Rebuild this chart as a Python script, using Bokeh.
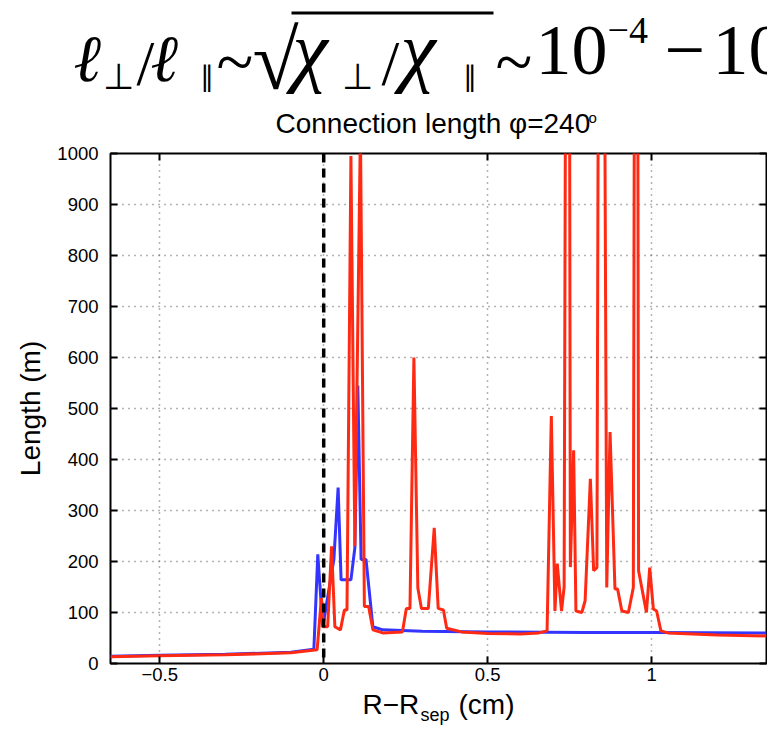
from bokeh.plotting import figure
from bokeh.models import Range1d, LinearAxis, FixedTicker, Span, ColumnDataSource
from bokeh.layouts import column
from bokeh.embed import file_html
from bokeh.resources import INLINE
from bokeh.core.properties import value

# ---------------- data ----------------
x_blue = [-0.65, -0.5, -0.3, -0.1, -0.03, -0.018, -0.008, -0.003, 0.031, 0.044, 0.053,
          0.083, 0.095, 0.104, 0.114, 0.129, 0.15, 0.18, 0.3, 0.5, 0.8, 1.0, 1.35]
y_blue = [14, 16, 18, 22, 28, 214, 120, 71, 204, 345, 164,
          164, 227, 545, 204, 204, 72, 66, 63, 62, 61, 61, 60]

x_red = [-0.65, -0.5, -0.3, -0.1, -0.02, -0.007, -0.001, 0.012, 0.024, 0.034, 0.051, 0.063,
         0.071, 0.083, 0.095, 0.112, 0.124, 0.137, 0.15, 0.18, 0.24, 0.252, 0.263, 0.275,
         0.287, 0.298, 0.319, 0.337, 0.349, 0.365, 0.375, 0.42, 0.5, 0.6, 0.656, 0.681,
         0.694, 0.705, 0.712, 0.725, 0.733, 0.745, 0.752, 0.762, 0.769, 0.787, 0.797,
         0.813, 0.823, 0.833, 0.845, 0.863, 0.873, 0.888, 0.896, 0.909, 0.929, 0.944,
         0.953, 0.96, 0.984, 0.994, 1.005, 1.015, 1.028, 1.05, 1.2, 1.35]
y_red = [13, 15, 17, 21, 27, 128, 72, 72, 230, 72, 66, 105,
         105, 995, 230, 1050, 112, 112, 66, 60, 62, 108, 108, 600,
         148, 108, 108, 266, 108, 105, 69, 62, 59, 58, 60, 64,
         485, 103, 196, 103, 150, 3000, 189, 418, 103, 100, 123,
         362, 182, 188, 3000, 149, 454, 146, 146, 103, 100, 149,
         3000, 182, 100, 188, 107, 103, 64, 60, 56, 54]

sep_x = 0.0
x_ticks = [-0.5, 0, 0.5, 1]
x_tick_labels = ["\u22120.5", "0", "0.5", "1"]
y_ticks = [0, 100, 200, 300, 400, 500, 600, 700, 800, 900, 1000]
y_tick_labels = ["0", "100", "200", "300", "400", "500", "600", "700", "800", "900", "1000"]

title_main = "Connection length \u03c6=240"
title_sup = "o"
y_label = "Length (m)"
x_label_parts = ["R\u2212R", "sep", "(cm)"]
formula_parts = ["\u2113", "\u22a5", "/", "\u2113", "\u2225", "~", "\u221a", "\u03c7", "\u22a5", "/",
                 "\u03c7", "\u2225", "~", "10", "\u22124", "\u2212", "10"]

SANS = "Liberation Sans"
SERIF = "Liberation Serif"
SHIFT = 0.36  # baseline correction (fraction of font size)


def canvas_fig(height, y_top):
    f = figure(width=767, height=height, x_range=Range1d(0, 767),
               y_range=Range1d(y_top + height, y_top),
               output_backend="svg", toolbar_location=None, min_border=0,
               x_axis_location=None, y_axis_location=None, outline_line_color=None,
               frame_align=False)
    f.grid.visible = False
    return f


def put_text(f, texts, xs, bases, sizes, styles, font, align="left"):
    src = ColumnDataSource(dict(
        x=xs, y=[b - SHIFT * s for b, s in zip(bases, sizes)], t=texts,
        s=[f"{s}px" for s in sizes], st=styles))
    f.text(x="x", y="y", text="t", text_font_size="s", text_font_style="st",
           text_font=value(font), text_baseline="alphabetic", text_align=align,
           text_color="black", source=src)


# ---------------- header (formula + title) ----------------
hdr = canvas_fig(140, 0)
f_x = [73, 102, 136, 150, 199, 216, 252, 292, 341, 381, 400, 462, 495, 535, 607, 664, 712]
f_b = [82, 89, 86, 82, 86, 86, 90, 78, 89, 86, 78, 86, 86, 76, 44, 76, 76]
f_s = [66, 36, 64, 66, 28, 68, 84, 80, 36, 64, 80, 28, 68, 72, 38, 72, 72]
f_st = ["italic", "normal", "normal", "italic", "normal", "normal", "normal", "italic", "normal",
        "normal", "italic", "normal", "normal", "normal", "normal", "normal", "normal"]
put_text(hdr, formula_parts, f_x, f_b, f_s, f_st, SERIF)
hdr.segment(x0=[291], y0=[12.5], x1=[493], y1=[12.5], line_color="black", line_width=3)
put_text(hdr, [title_main, title_sup], [275, 588], [133, 122], [28, 15],
         ["normal", "normal"], SANS)

# ---------------- main plot ----------------
p = figure(width=767, height=548, x_range=Range1d(-0.65, 1.35), y_range=Range1d(0, 1000),
           output_backend="svg", toolbar_location=None, frame_align=False,
           min_border_left=110, min_border_right=1, min_border_top=13, min_border_bottom=25)
p.outline_line_color = "black"
p.outline_line_width = 2

for ax in (p.xaxis[0], p.yaxis[0]):
    ax.major_tick_in = 7
    ax.major_tick_out = 0
    ax.minor_tick_line_color = None
    ax.axis_line_color = None
    ax.major_tick_line_width = 2
    ax.major_label_text_font = SANS
    ax.major_label_text_font_size = "18.5px"
    ax.major_label_text_color = "black"

p.xaxis[0].ticker = FixedTicker(ticks=x_ticks)
p.xaxis[0].major_label_overrides = {t: l for t, l in zip(x_ticks, x_tick_labels)}
p.xaxis[0].major_label_standoff = 4
p.yaxis[0].ticker = FixedTicker(ticks=y_ticks)
p.yaxis[0].major_label_overrides = {t: l for t, l in zip(y_ticks, y_tick_labels)}
p.yaxis[0].major_label_standoff = 12
p.yaxis[0].axis_label = y_label
p.yaxis[0].axis_label_text_font = SANS
p.yaxis[0].axis_label_text_font_style = "normal"
p.yaxis[0].axis_label_text_font_size = "28px"
p.yaxis[0].axis_label_text_color = "black"
p.yaxis[0].axis_label_standoff = 8

for loc, tk in (("right", y_ticks), ("above", x_ticks)):
    ax = LinearAxis(ticker=FixedTicker(ticks=tk), major_tick_in=7, major_tick_out=0,
                    minor_tick_line_color=None, axis_line_color=None, major_tick_line_width=2,
                    major_label_text_font_size="0px", major_label_text_color=None,
                    major_label_standoff=0)
    p.add_layout(ax, loc)

p.xgrid.ticker = FixedTicker(ticks=x_ticks)
p.ygrid.ticker = FixedTicker(ticks=y_ticks)
p.grid.grid_line_color = "#666666"
p.grid.grid_line_dash = "1 5"
p.grid.grid_line_width = 1.5

p.line(x_blue, y_blue, line_color="#3434ff", line_width=3)
p.line(x_red, y_red, line_color="#ff2a14", line_width=3)
p.add_layout(Span(location=sep_x, dimension="height", line_color="black",
                  line_dash="9 6", line_width=3.5))

# ---------------- footer (x label) ----------------
ftr = canvas_fig(42, 688)
put_text(ftr, x_label_parts, [362, 420, 458], [714, 721, 714], [28, 18, 28],
         ["normal", "normal", "normal"], SANS)

layout = column(hdr, p, ftr, spacing=0)
open("out.html", "w").write(file_html(layout, INLINE))
